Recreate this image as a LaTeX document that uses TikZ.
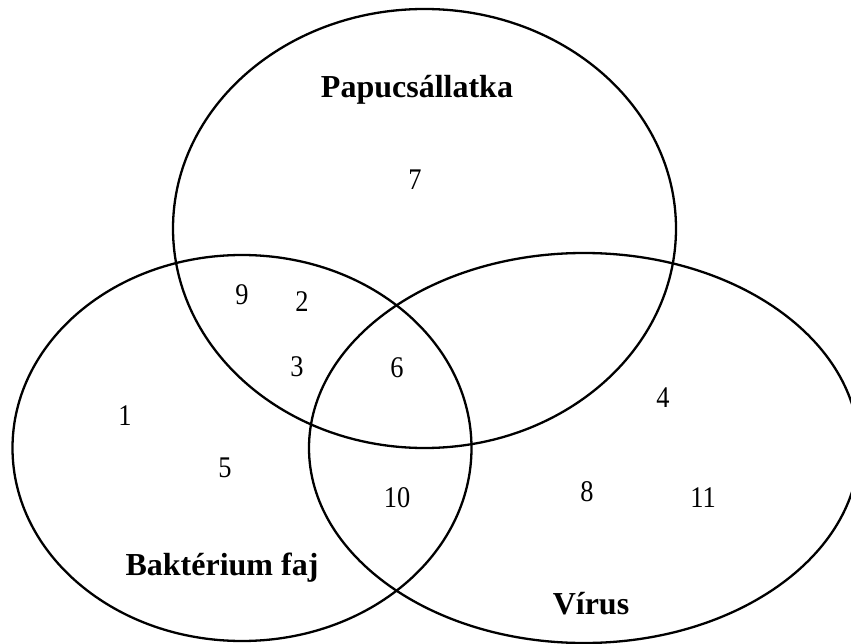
\documentclass[tikz,border=0pt]{standalone}
\usepackage{fontspec}
\setmainfont{Liberation Serif}
\newfontfamily\numfont{Liberation Serif}[FakeStretch=0.88]
\usepackage{tikz}

\begin{document}
\begin{tikzpicture}[x=1pt,y=-1pt]
\tikzset{setline/.style = {draw,line width=2.3pt},
         number/.style = {inner sep=0pt,font=\numfont\fontsize{30}{30}\selectfont},
         setname/.style = {inner sep=0pt,anchor=base,font=\bfseries\fontsize{32}{32}\selectfont}}
\useasboundingbox (0,0) rectangle (851,644);
% sets
\foreach \x/\y/\rx/\ry in {424.5/228.5/251.5/219.5,242/448/229.5/193,584/448/275/195} {
    \draw[setline] (\x,\y) ellipse [x radius=\rx pt, y radius=\ry pt];
}
% elements
\foreach \x/\y/\name in {415/180/7,242/295/9,302/302/2,297/367/3,397/368/6,125/416/1,225/468/5,397/498/10,663/398/4,587/492/8,703/498/11} {
    \node[number] (n\name) at (\x,\y) {\name};
}
% set names
\node[setname] (papucs) at (417,98) {Papucsállatka};
\node[setname] (bakterium) at (222,575) {Baktérium faj};
\node[setname] (virus) at (591,614) {Vírus};
\end{tikzpicture}
\end{document}
